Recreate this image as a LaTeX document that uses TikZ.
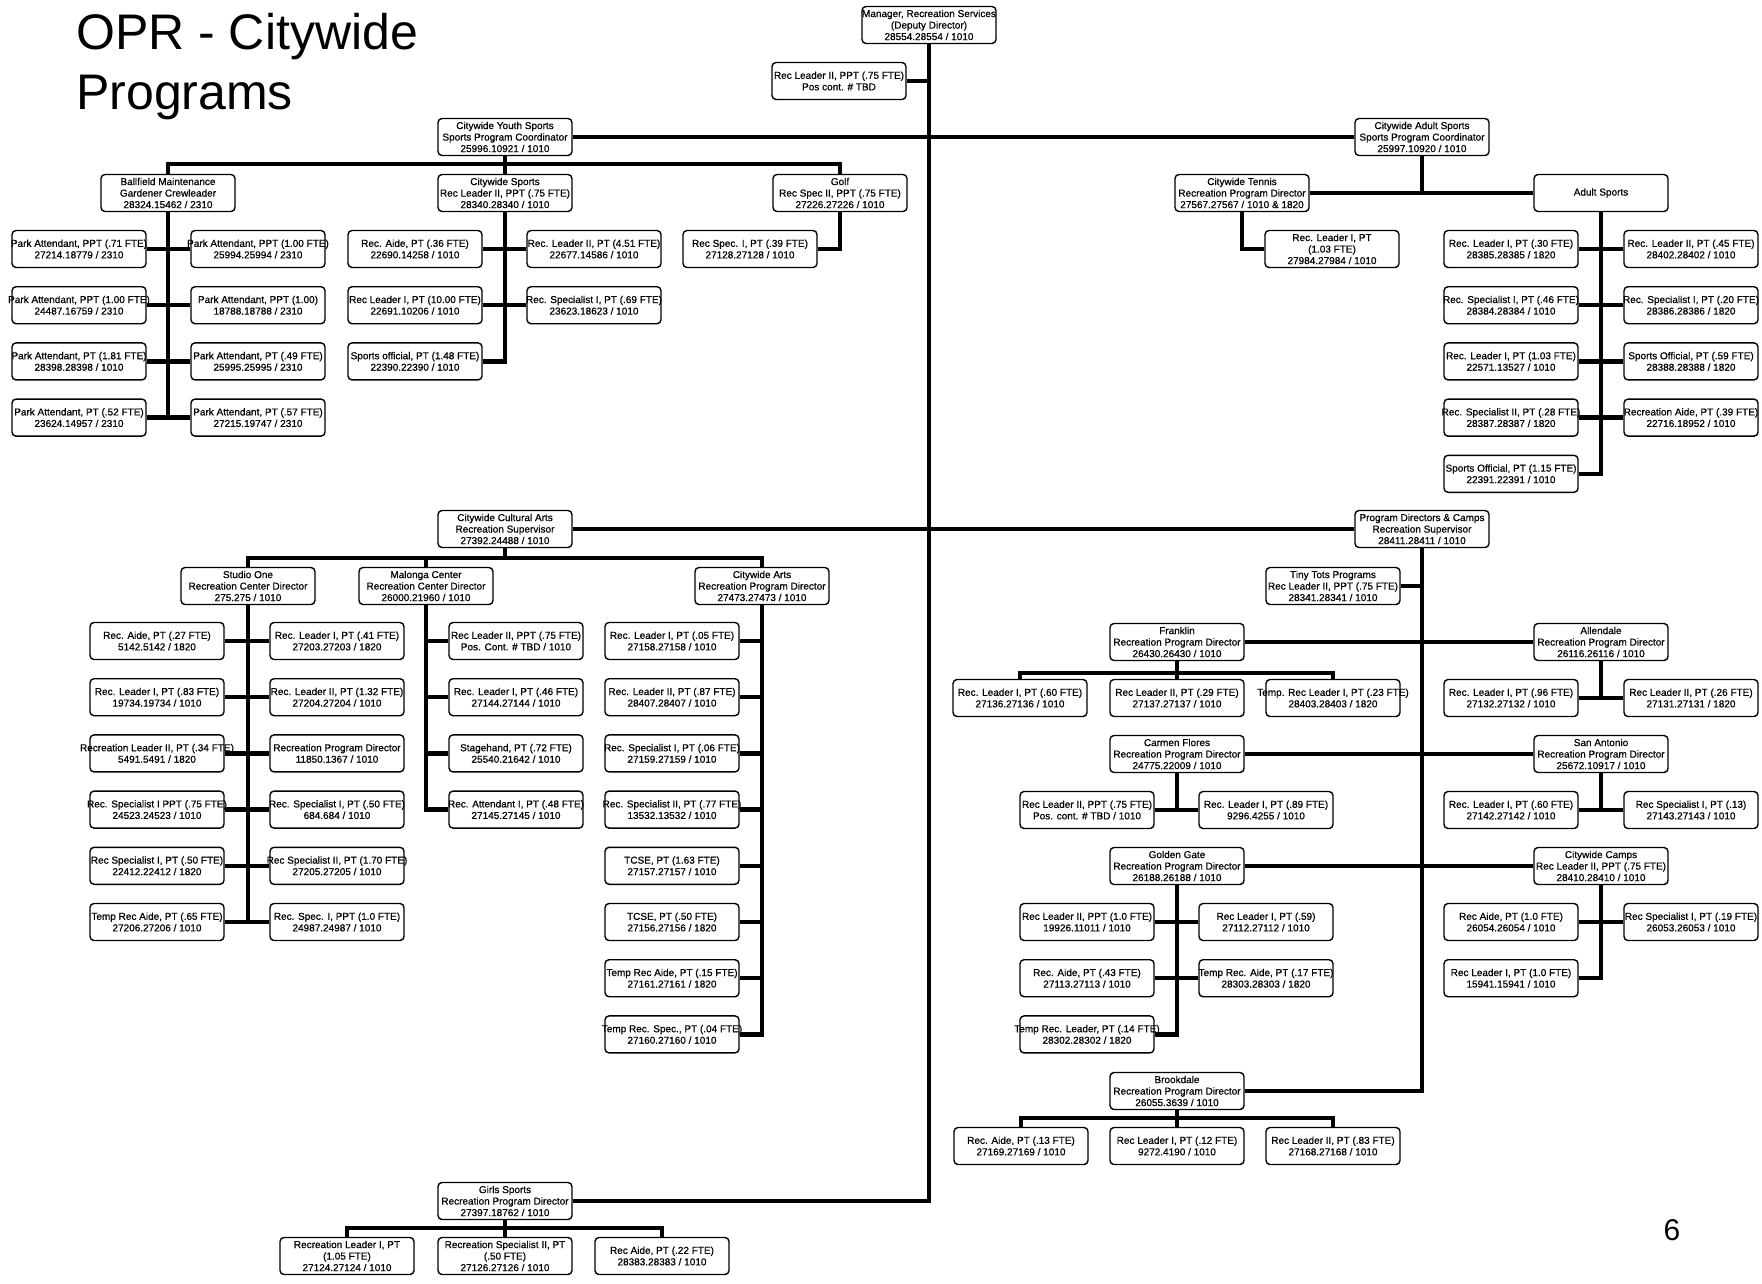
\documentclass[tikz,border=0pt]{standalone}
\usepackage{fontspec}
\setmainfont{Liberation Sans}
\newfontfamily\boxfont{Liberation Sans}[FakeBold=0.6]
\usetikzlibrary{positioning}

\begin{document}
\begin{tikzpicture}[x=1pt,y=-1pt,node distance=17.8pt,box/.style={draw,line width=1.4pt,rounded corners=4pt,fill=white,minimum width=134pt,minimum height=37pt,inner xsep=-11pt,inner ysep=1pt,align=center,font=\boxfont\fontsize{10}{11.5}\selectfont},link/.style={line width=4.5pt}]
\useasboundingbox (0,0) rectangle (1762,1283);
\node[anchor=north west,inner sep=0pt,align=left,font=\fontsize{50}{60}\selectfont] (title) at (76,13) {OPR - Citywide\\Programs};
\node[font=\fontsize{30}{30}\selectfont] (page) at (1672,1230) {6};

% heads
\node[box] (mgr) at (929,25) {Manager, Recreation Services\\(Deputy Director)\\28554.28554 / 1010};
\node[box] (lead) at (839,81) {Rec Leader II, PPT (.75 FTE)\\Pos cont. \# TBD};
\node[box] (youth) at (505,137) {Citywide Youth Sports\\Sports Program Coordinator\\25996.10921 / 1010};
\node[box] (adult) at (1422,137) {Citywide Adult Sports\\Sports Program Coordinator\\25997.10920 / 1010};
\node[box] (arts) at (505,529) {Citywide Cultural Arts\\Recreation Supervisor\\27392.24488 / 1010};
\node[box] (progs) at (1422,529) {Program Directors \& Camps\\Recreation Supervisor\\28411.28411 / 1010};
\node[box] (girls) at (505,1201) {Girls Sports\\Recreation Program Director\\27397.18762 / 1010};

% youth sports
\node[box] (ball) at (168,193) {Ballfield Maintenance\\Gardener Crewleader\\28324.15462 / 2310};
\node[box] (csports) at (505,193) {Citywide Sports\\Rec Leader II, PPT (.75 FTE)\\28340.28340 / 1010};
\node[box] (golf) at (840,193) {Golf\\Rec Spec II, PPT (.75 FTE)\\27226.27226 / 1010};
\node[box] (ballL1) at (79,249) {Park Attendant, PPT (.71 FTE)\\27214.18779 / 2310};
\node[box,below=of ballL1] (ballL2) {Park Attendant, PPT (1.00 FTE)\\24487.16759 / 2310};
\node[box,below=of ballL2] (ballL3) {Park Attendant, PT (1.81 FTE)\\28398.28398 / 1010};
\node[box,below=of ballL3] (ballL4) {Park Attendant, PT (.52 FTE)\\23624.14957 / 2310};
\node[box] (ballR1) at (258,249) {Park Attendant, PPT (1.00 FTE)\\25994.25994 / 2310};
\node[box,below=of ballR1] (ballR2) {Park Attendant, PPT (1.00)\\18788.18788 / 2310};
\node[box,below=of ballR2] (ballR3) {Park Attendant, PT (.49 FTE)\\25995.25995 / 2310};
\node[box,below=of ballR3] (ballR4) {Park Attendant, PT (.57 FTE)\\27215.19747 / 2310};
\node[box] (csL1) at (415,249) {Rec. Aide, PT (.36 FTE)\\22690.14258 / 1010};
\node[box,below=of csL1] (csL2) {Rec Leader I, PT (10.00 FTE)\\22691.10206 / 1010};
\node[box,below=of csL2] (csL3) {Sports official, PT (1.48 FTE)\\22390.22390 / 1010};
\node[box] (csR1) at (594,249) {Rec. Leader II, PT (4.51 FTE)\\22677.14586 / 1010};
\node[box,below=of csR1] (csR2) {Rec. Specialist I, PT (.69 FTE)\\23623.18623 / 1010};
\node[box] (golf1) at (750,249) {Rec Spec. I, PT (.39 FTE)\\27128.27128 / 1010};

% adult sports
\node[box] (tennis) at (1242,193) {Citywide Tennis\\Recreation Program Director\\27567.27567 / 1010 \& 1820};
\node[box] (asports) at (1601,193) {Adult Sports};
\node[box] (tennis1) at (1332,249) {Rec. Leader I, PT\\(1.03 FTE)\\27984.27984 / 1010};
\node[box] (asL1) at (1511,249) {Rec. Leader I, PT (.30 FTE)\\28385.28385 / 1820};
\node[box,below=of asL1] (asL2) {Rec. Specialist I, PT (.46 FTE)\\28384.28384 / 1010};
\node[box,below=of asL2] (asL3) {Rec. Leader I, PT (1.03 FTE)\\22571.13527 / 1010};
\node[box,below=of asL3] (asL4) {Rec. Specialist II, PT (.28 FTE)\\28387.28387 / 1820};
\node[box,below=of asL4] (asL5) {Sports Official, PT (1.15 FTE)\\22391.22391 / 1010};
\node[box] (asR1) at (1691,249) {Rec. Leader II, PT (.45 FTE)\\28402.28402 / 1010};
\node[box,below=of asR1] (asR2) {Rec. Specialist I, PT (.20 FTE)\\28386.28386 / 1820};
\node[box,below=of asR2] (asR3) {Sports Official, PT (.59 FTE)\\28388.28388 / 1820};
\node[box,below=of asR3] (asR4) {Recreation Aide, PT (.39 FTE)\\22716.18952 / 1010};

% cultural arts
\node[box] (studio) at (248,586) {Studio One\\Recreation Center Director\\275.275 / 1010};
\node[box] (malonga) at (426,586) {Malonga Center\\Recreation Center Director\\26000.21960 / 1010};
\node[box] (carts) at (762,586) {Citywide Arts\\Recreation Program Director\\27473.27473 / 1010};
\node[box] (studioL1) at (157,641) {Rec. Aide, PT (.27 FTE)\\5142.5142 / 1820};
\node[box,below=of studioL1] (studioL2) {Rec. Leader I, PT (.83 FTE)\\19734.19734 / 1010};
\node[box,below=of studioL2] (studioL3) {Recreation Leader II, PT (.34 FTE)\\5491.5491 / 1820};
\node[box,below=of studioL3] (studioL4) {Rec. Specialist I PPT (.75 FTE)\\24523.24523 / 1010};
\node[box,below=of studioL4] (studioL5) {Rec Specialist I, PT (.50 FTE)\\22412.22412 / 1820};
\node[box,below=of studioL5] (studioL6) {Temp Rec Aide, PT (.65 FTE)\\27206.27206 / 1010};
\node[box] (studioR1) at (337,641) {Rec. Leader I, PT (.41 FTE)\\27203.27203 / 1820};
\node[box,below=of studioR1] (studioR2) {Rec. Leader II, PT (1.32 FTE)\\27204.27204 / 1010};
\node[box,below=of studioR2] (studioR3) {Recreation Program Director\\11850.1367 / 1010};
\node[box,below=of studioR3] (studioR4) {Rec. Specialist I, PT (.50 FTE)\\684.684 / 1010};
\node[box,below=of studioR4] (studioR5) {Rec Specialist II, PT (1.70 FTE)\\27205.27205 / 1010};
\node[box,below=of studioR5] (studioR6) {Rec. Spec. I, PPT (1.0 FTE)\\24987.24987 / 1010};
\node[box] (mal1) at (516,641) {Rec Leader II, PPT (.75 FTE)\\Pos. Cont. \# TBD / 1010};
\node[box,below=of mal1] (mal2) {Rec. Leader I, PT (.46 FTE)\\27144.27144 / 1010};
\node[box,below=of mal2] (mal3) {Stagehand, PT (.72 FTE)\\25540.21642 / 1010};
\node[box,below=of mal3] (mal4) {Rec. Attendant I, PT (.48 FTE)\\27145.27145 / 1010};
\node[box] (ca1) at (672,641) {Rec. Leader I, PT (.05 FTE)\\27158.27158 / 1010};
\node[box,below=of ca1] (ca2) {Rec. Leader II, PT (.87 FTE)\\28407.28407 / 1010};
\node[box,below=of ca2] (ca3) {Rec. Specialist I, PT (.06 FTE)\\27159.27159 / 1010};
\node[box,below=of ca3] (ca4) {Rec. Specialist II, PT (.77 FTE)\\13532.13532 / 1010};
\node[box,below=of ca4] (ca5) {TCSE, PT (1.63 FTE)\\27157.27157 / 1010};
\node[box,below=of ca5] (ca6) {TCSE, PT (.50 FTE)\\27156.27156 / 1820};
\node[box,below=of ca6] (ca7) {Temp Rec Aide, PT (.15 FTE)\\27161.27161 / 1820};
\node[box,below=of ca7] (ca8) {Temp Rec. Spec., PT (.04 FTE)\\27160.27160 / 1010};

% program directors and camps
\node[box] (tots) at (1333,586) {Tiny Tots Programs\\Rec Leader II, PPT (.75 FTE)\\28341.28341 / 1010};
\node[box] (franklin) at (1177,642) {Franklin\\Recreation Program Director\\26430.26430 / 1010};
\node[box] (allen) at (1601,642) {Allendale\\Recreation Program Director\\26116.26116 / 1010};
\node[box] (carmen) at (1177,754) {Carmen Flores\\Recreation Program Director\\24775.22009 / 1010};
\node[box] (sanant) at (1601,754) {San Antonio\\Recreation Program Director\\25672.10917 / 1010};
\node[box] (golden) at (1177,866) {Golden Gate\\Recreation Program Director\\26188.26188 / 1010};
\node[box] (camps) at (1601,866) {Citywide Camps\\Rec Leader II, PPT (.75 FTE)\\28410.28410 / 1010};
\node[box] (brook) at (1177,1091) {Brookdale\\Recreation Program Director\\26055.3639 / 1010};
\node[box] (fr1) at (1020,698) {Rec. Leader I, PT (.60 FTE)\\27136.27136 / 1010};
\node[box] (fr2) at (1177,698) {Rec Leader II, PT (.29 FTE)\\27137.27137 / 1010};
\node[box] (fr3) at (1333,698) {Temp. Rec Leader I, PT (.23 FTE)\\28403.28403 / 1820};
\node[box] (al1) at (1511,698) {Rec. Leader I, PT (.96 FTE)\\27132.27132 / 1010};
\node[box] (al2) at (1691,698) {Rec Leader II, PT (.26 FTE)\\27131.27131 / 1820};
\node[box] (cf1) at (1087,810) {Rec Leader II, PPT (.75 FTE)\\Pos. cont. \# TBD / 1010};
\node[box] (cf2) at (1266,810) {Rec. Leader I, PT (.89 FTE)\\9296.4255 / 1010};
\node[box] (sa1) at (1511,810) {Rec. Leader I, PT (.60 FTE)\\27142.27142 / 1010};
\node[box] (sa2) at (1691,810) {Rec Specialist I, PT (.13)\\27143.27143 / 1010};
\node[box] (ggL1) at (1087,922) {Rec Leader II, PPT (1.0 FTE)\\19926.11011 / 1010};
\node[box,below=of ggL1] (ggL2) {Rec. Aide, PT (.43 FTE)\\27113.27113 / 1010};
\node[box,below=of ggL2] (ggL3) {Temp Rec. Leader, PT (.14 FTE)\\28302.28302 / 1820};
\node[box] (ggR1) at (1266,922) {Rec Leader I, PT (.59)\\27112.27112 / 1010};
\node[box,below=of ggR1] (ggR2) {Temp Rec. Aide, PT (.17 FTE)\\28303.28303 / 1820};
\node[box] (ccL1) at (1511,922) {Rec Aide, PT (1.0 FTE)\\26054.26054 / 1010};
\node[box,below=of ccL1] (ccL2) {Rec Leader I, PT (1.0 FTE)\\15941.15941 / 1010};
\node[box] (ccR1) at (1691,922) {Rec Specialist I, PT (.19 FTE)\\26053.26053 / 1010};
\node[box] (bk1) at (1021,1146) {Rec. Aide, PT (.13 FTE)\\27169.27169 / 1010};
\node[box] (bk2) at (1177,1146) {Rec Leader I, PT (.12 FTE)\\9272.4190 / 1010};
\node[box] (bk3) at (1333,1146) {Rec Leader II, PT (.83 FTE)\\27168.27168 / 1010};

% girls sports
\node[box] (gs1) at (347,1256) {Recreation Leader I, PT\\(1.05 FTE)\\27124.27124 / 1010};
\node[box] (gs2) at (505,1256) {Recreation Specialist II, PT\\(.50 FTE)\\27126.27126 / 1010};
\node[box] (gs3) at (662,1256) {Rec Aide, PT (.22 FTE)\\28383.28383 / 1010};

% connectors
\draw[link] (mgr.south) |- (girls.east);
\draw[link] (lead.east) -- (lead.east -| mgr.south);
\draw[link] (youth.east) -- (adult.west);
\draw[link] (arts.east) -- (progs.west);

\coordinate (ybus) at (505,164);
\draw[link] (youth.south) -- (csports.north);
\draw[link] (ball.north) |- (ybus) -| (golf.north);
\draw[link] (ball.south) |- (ballL4.east);
\foreach \i in {1,...,4} \draw[link] (ballL\i.east) -- (ballR\i.west);
\draw[link] (csports.south) |- (csL3.east);
\foreach \i in {1,2} \draw[link] (csL\i.east) -- (csR\i.west);
\draw[link] (golf.south) |- (golf1.east);

\draw[link] (tennis.east) -- (asports.west);
\draw[link] (adult.south) -- (adult.south |- asports.west);
\draw[link] (tennis.south) |- (tennis1.west);
\draw[link] (asports.south) |- (asL5.east);
\foreach \i in {1,...,4} \draw[link] (asL\i.east) -- (asR\i.west);

\coordinate (abus) at (505,558);
\draw[link] (arts.south) -- (abus);
\draw[link] (studio.north) |- (abus) -| (carts.north);
\draw[link] (malonga.north) -- (malonga.north |- abus);
\draw[link] (studio.south) |- (studioL6.east);
\foreach \i in {1,...,6} \draw[link] (studioL\i.east) -- (studioR\i.west);
\foreach \i in {1,...,4} \draw[link] (malonga.south) |- (mal\i.west);
\foreach \i in {1,...,8} \draw[link] (carts.south) |- (ca\i.east);

\draw[link] (progs.south) |- (brook.east);
\draw[link] (tots.east) -- (tots.east -| progs.south);
\draw[link] (franklin.east) -- (allen.west);
\draw[link] (carmen.east) -- (sanant.west);
\draw[link] (golden.east) -- (camps.west);
\coordinate (fbus) at (1177,673);
\draw[link] (franklin.south) -- (fr2.north);
\draw[link] (fr1.north) |- (fbus) -| (fr3.north);
\draw[link] (allen.south) -- (allen.south |- al1.east);
\draw[link] (al1.east) -- (al2.west);
\draw[link] (carmen.south) -- (carmen.south |- cf1.east);
\draw[link] (cf1.east) -- (cf2.west);
\draw[link] (sanant.south) -- (sanant.south |- sa1.east);
\draw[link] (sa1.east) -- (sa2.west);
\draw[link] (golden.south) |- (ggL3.east);
\foreach \i in {1,2} \draw[link] (ggL\i.east) -- (ggR\i.west);
\draw[link] (camps.south) |- (ccL2.east);
\draw[link] (ccL1.east) -- (ccR1.west);
\coordinate (bbus) at (1177,1118);
\draw[link] (brook.south) -- (bk2.north);
\draw[link] (bk1.north) |- (bbus) -| (bk3.north);

\coordinate (gbus) at (505,1228);
\draw[link] (girls.south) -- (gs2.north);
\draw[link] (gs1.north) |- (gbus) -| (gs3.north);
\end{tikzpicture}
\end{document}
